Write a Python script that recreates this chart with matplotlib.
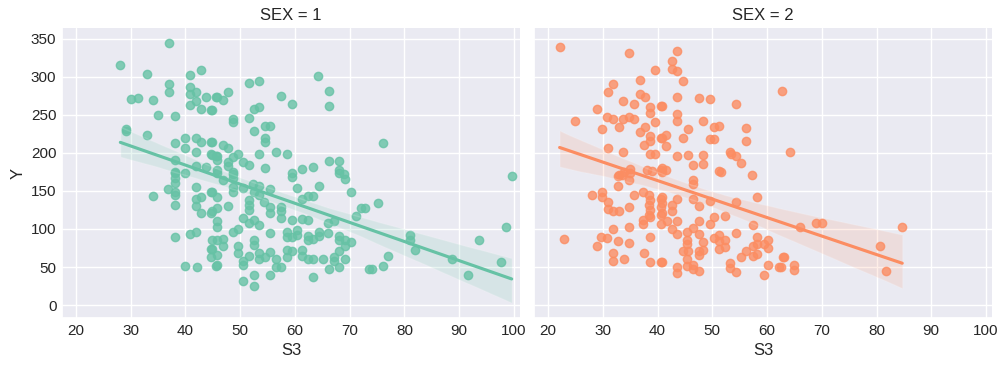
import matplotlib
matplotlib.use("Agg")
import matplotlib.pyplot as plt
import numpy as np
import pandas as pd
import seaborn as sns

# S3 vs Y for SEX = 1
s3_sex1 = [
    36.9, 28.1, 33.0, 40.9, 42.8, 36.9, 36.9, 40.8, 40.8, 41.9, 30.0, 31.3, 34.0, 41.9, 40.8,
    43.8, 45.6, 42.8, 44.7, 34.9, 38.0, 29.1, 29.1, 33.0, 38.0, 39.9, 39.9, 41.9, 42.8, 44.7,
    41.9, 44.7, 45.6, 38.0, 41.9, 43.8, 38.0, 39.9, 38.0, 38.0, 38.0, 34.0, 36.8, 38.0, 38.0,
    38.0, 41.9, 42.8, 41.9, 41.9, 42.8, 44.7, 44.7, 38.0, 40.8, 41.9, 44.7, 44.7, 39.9, 42.1,
    45.6, 64.3, 66.2, 66.2, 51.6, 53.5, 57.4, 59.4, 47.8, 45.8, 46.8, 44.9, 52.6, 53.5, 51.6,
    48.6, 48.6, 52.6, 54.5, 55.4, 54.5, 54.5, 53.5, 56.5, 58.5, 44.8, 46.8, 47.8, 45.8, 45.8,
    44.8, 48.6, 49.6, 50.6, 51.6, 47.8, 47.8, 54.5, 59.4, 61.3, 63.3, 66.2, 68.1, 68.1, 69.0,
    45.8, 48.6, 59.4, 68.1, 69.1, 64.4, 60.4, 61.3, 62.4, 63.3, 70.2, 45.8, 46.8, 48.6, 48.6,
    44.8, 45.8, 48.6, 48.6, 50.6, 52.4, 53.5, 52.6, 53.5, 55.4, 54.4, 55.4, 55.4, 51.6, 51.6,
    51.6, 57.4, 57.4, 57.4, 47.8, 44.8, 45.8, 45.8, 45.8, 50.6, 51.6, 52.6, 53.5, 59.4, 61.3,
    62.4, 48.6, 49.6, 55.4, 58.5, 58.5, 60.4, 60.4, 59.4, 62.4, 62.4, 63.3, 64.4, 64.4, 66.1,
    66.1, 67.1, 68.1, 68.1, 68.1, 69.1, 69.1, 70.2, 71.1, 72.1, 73.6, 44.8, 45.8, 46.8, 46.8,
    44.8, 45.8, 45.8, 49.6, 49.6, 52.6, 52.6, 53.5, 53.5, 51.6, 50.6, 50.6, 54.5, 55.4, 56.5,
    56.5, 57.4, 58.5, 58.5, 59.4, 61.3, 61.3, 62.4, 63.3, 65.2, 66.2, 67.1, 67.1, 68.1, 69.1,
    50.6, 52.6, 52.6, 55.4, 63.3, 99.6, 98.5, 97.6, 93.6, 91.7, 88.7, 81.0, 81.0, 81.9, 77.0,
    76.0, 74.0, 75.1, 72.8, 76.0,
]
y_sex1 = [
    345, 316, 304, 302, 309, 291, 280, 286, 277, 280, 271, 272, 269, 268, 263,
    274, 274, 258, 256, 250, 248, 232, 229, 224, 213, 220, 207, 220, 214, 214,
    201, 199, 196, 191, 183, 182, 174, 173, 175, 167, 160, 144, 152, 148, 145,
    132, 155, 142, 139, 130, 121, 149, 121, 90, 93, 96, 74, 63, 52, 50,
    51, 301, 282, 261, 292, 294, 275, 264, 280, 274, 269, 256, 258, 260, 246,
    245, 241, 229, 236, 235, 220, 214, 199, 201, 199, 214, 210, 206, 196, 191,
    197, 194, 198, 188, 184, 188, 183, 180, 173, 179, 182, 190, 190, 178, 172,
    178, 175, 168, 174, 166, 157, 154, 140, 143, 143, 148, 173, 164, 172, 167,
    149, 142, 155, 149, 154, 159, 157, 149, 145, 153, 136, 129, 121, 138, 132,
    125, 129, 123, 114, 130, 124, 128, 110, 103, 114, 108, 112, 105, 112, 113,
    112, 96, 100, 95, 96, 89, 99, 92, 89, 91, 85, 87, 96, 91, 108,
    95, 111, 91, 85, 71, 85, 78, 83, 117, 127, 47, 86, 86, 87, 77,
    74, 66, 53, 78, 68, 86, 79, 69, 61, 64, 58, 53, 63, 70, 60,
    50, 50, 73, 63, 71, 72, 65, 60, 61, 60, 48, 63, 58, 50, 61,
    31, 40, 25, 40, 37, 170, 103, 57, 86, 39, 60, 92, 86, 72, 64,
    51, 47, 134, 127, 213,
]

# S3 vs Y for SEX = 2
s3_sex2 = [
    22.1, 34.7, 39.6, 31.8, 30.9, 36.7, 36.7, 37.7, 33.7, 35.7, 38.7, 38.7, 40.6, 28.9, 24.9,
    30.7, 31.8, 33.7, 34.7, 35.7, 32.9, 29.8, 39.6, 36.7, 37.7, 38.7, 38.7, 40.6, 37.6, 30.9,
    33.7, 38.7, 39.6, 34.9, 33.8, 32.9, 38.1, 39.0, 40.6, 43.6, 42.6, 42.6, 43.6, 44.6, 43.6,
    40.8, 47.5, 49.5, 54.4, 62.8, 43.6, 43.6, 48.3, 45.6, 50.3, 51.3, 56.2, 56.2, 44.6, 41.6,
    40.8, 49.5, 50.4, 41.6, 43.6, 45.6, 48.3, 53.3, 53.4, 54.4, 55.3, 46.4, 48.3, 51.3, 57.3,
    40.8, 41.6, 64.2, 22.9, 28.0, 29.8, 29.8, 30.9, 30.9, 31.8, 32.9, 34.7, 32.8, 33.5, 34.7,
    35.0, 32.7, 35.7, 37.4, 38.4, 38.4, 38.7, 38.7, 38.4, 37.4, 37.4, 38.7, 40.6, 40.6, 40.6,
    40.6, 31.8, 34.7, 29.7, 30.7, 28.9, 32.8, 34.7, 31.8, 31.8, 33.8, 38.7, 37.6, 38.7, 40.6,
    51.5, 46.4, 46.4, 40.8, 40.8, 40.8, 40.8, 42.6, 42.6, 43.6, 41.7, 43.6, 42.6, 43.6, 46.4,
    47.5, 49.5, 47.5, 49.5, 50.3, 52.3, 54.4, 58.2, 57.4, 45.4, 46.4, 45.4, 45.4, 47.5, 48.3,
    44.6, 45.6, 47.5, 48.3, 47.5, 50.3, 51.3, 51.3, 52.3, 51.3, 52.3, 54.4, 45.4, 46.4, 46.4,
    47.5, 45.4, 43.6, 43.6, 40.8, 53.3, 53.3, 54.4, 55.3, 56.2, 57.4, 57.4, 58.2, 58.2, 59.4,
    60.2, 60.2, 58.2, 59.4, 60.2, 62.1, 62.9, 63.1, 62.5, 65.0, 65.0, 66.1, 69.0, 70.1, 80.7,
    81.7, 84.7,
]
y_sex2 = [
    339, 331, 309, 291, 280, 296, 277, 274, 268, 264, 260, 253, 262, 258, 242,
    247, 244, 244, 247, 245, 234, 232, 240, 227, 234, 222, 216, 220, 211, 207,
    201, 199, 198, 179, 175, 171, 178, 176, 178, 334, 321, 310, 308, 294, 274,
    262, 272, 271, 264, 282, 251, 242, 242, 232, 234, 236, 233, 215, 220, 224,
    219, 218, 218, 209, 196, 197, 197, 201, 199, 196, 187, 184, 186, 176, 171,
    180, 177, 201, 87, 145, 149, 142, 136, 126, 124, 124, 129, 169, 171, 164,
    173, 157, 145, 149, 145, 132, 138, 125, 118, 112, 107, 116, 140, 129, 118,
    107, 100, 102, 90, 88, 77, 84, 81, 69, 58, 61, 90, 69, 56, 56,
    175, 164, 159, 175, 142, 134, 121, 132, 123, 139, 111, 110, 100, 94, 139,
    130, 137, 111, 107, 116, 117, 135, 142, 105, 96, 101, 86, 80, 94, 83,
    71, 71, 71, 72, 66, 88, 92, 84, 85, 74, 76, 95, 60, 53, 47,
    45, 51, 50, 42, 56, 55, 49, 43, 63, 71, 77, 64, 67, 80, 80,
    85, 75, 90, 40, 53, 50, 63, 63, 50, 53, 46, 102, 108, 108, 77,
    45, 102,
]

df = pd.DataFrame({
    "S3": s3_sex1 + s3_sex2,
    "Y": y_sex1 + y_sex2,
    "SEX": [1] * len(s3_sex1) + [2] * len(s3_sex2),
})

sns.set_theme(style="darkgrid")
plt.rcParams["font.family"] = ["Liberation Sans", "DejaVu Sans"]

g = sns.lmplot(
    data=df, x="S3", y="Y", col="SEX", hue="SEX", palette="Set2",
    height=3.75, aspect=4 / 3, seed=0,
)
g.set(xlim=(17.44, 101.1), ylim=(-17, 364))
for ax in g.axes.flat:
    ax.tick_params(axis="both", length=0, pad=4)
fig = g.figure
fig.set_size_inches(10, 3.75)
fig.subplots_adjust(left=0.062, right=0.992, bottom=0.152, top=0.925, wspace=0.031)
fig.savefig("out.png", dpi=100)
